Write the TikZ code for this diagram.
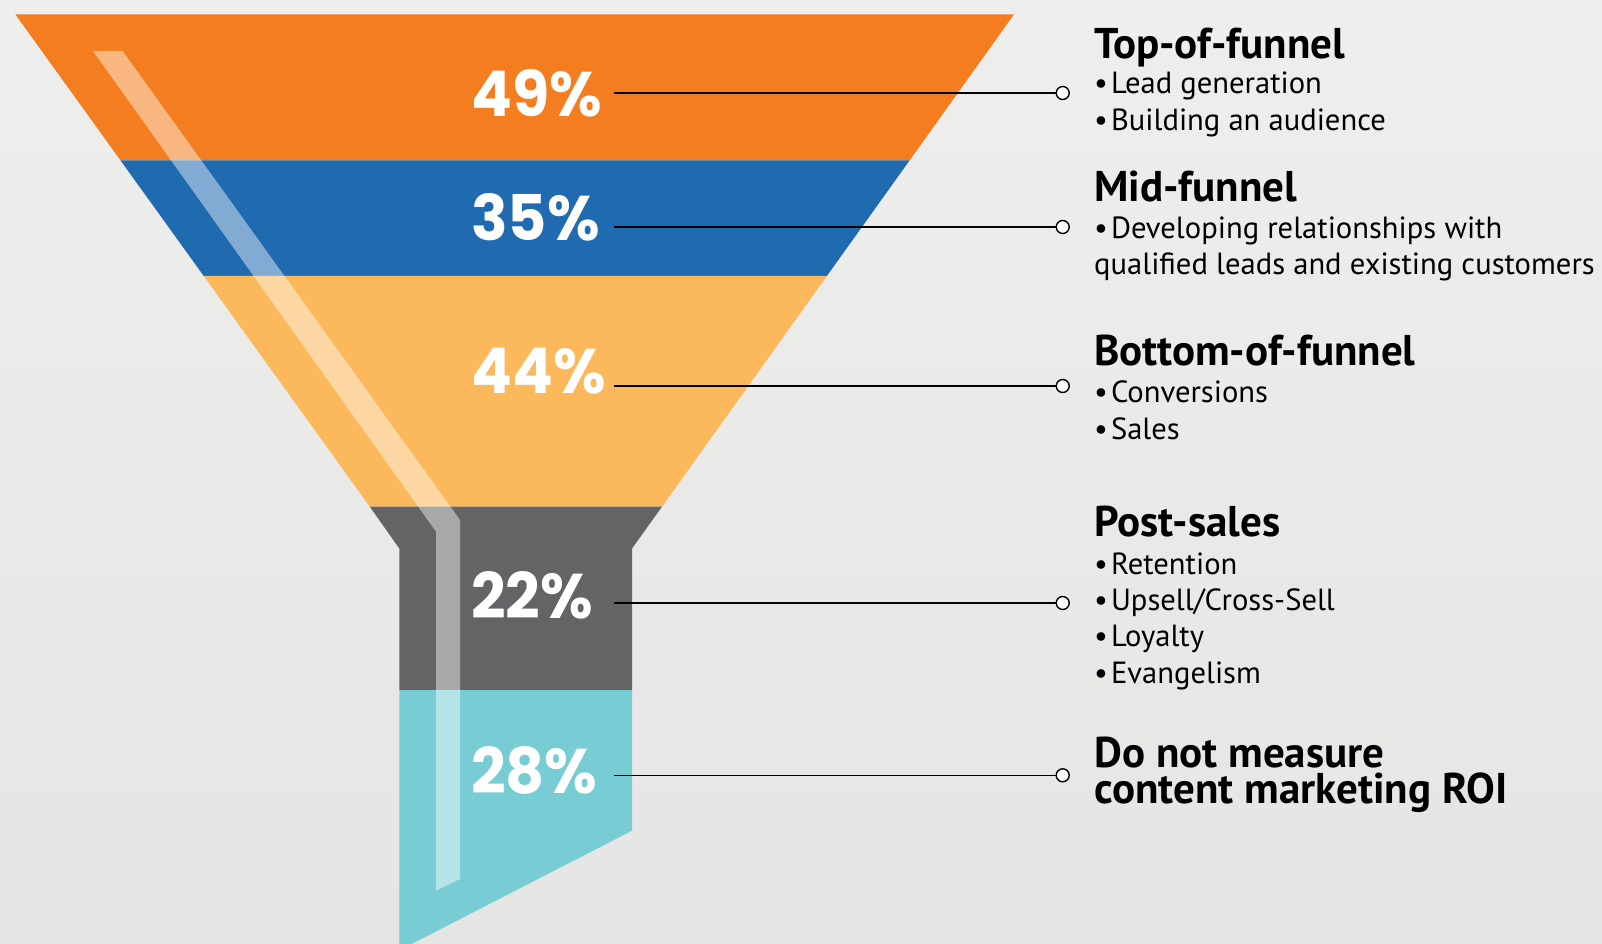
\documentclass[tikz,border=0pt]{standalone}
\usepackage{fontspec}
\setmainfont{PT Sans}
\newfontfamily\pctfont{Poppins}[FakeStretch=0.96]
\definecolor{cOrange}{RGB}{244,125,32}
\definecolor{cBlue}{RGB}{32,106,175}
\definecolor{cYellow}{RGB}{251,185,91}
\definecolor{cGray}{RGB}{99,100,102}
\definecolor{cTeal}{RGB}{120,205,213}
\definecolor{bgTop}{RGB}{238,238,237}
\definecolor{bgBot}{RGB}{229,229,227}
\newcommand{\bul}{•\kern3pt}
\begin{document}
\begin{tikzpicture}[x=1pt,y=-1pt,
  pct/.style={anchor=base west, inner sep=0pt, text=white, font=\pctfont\bfseries\fontsize{63}{70}\selectfont},
  head/.style={anchor=base west, inner sep=0pt, font=\bfseries\fontsize{43}{36}\selectfont},
  item/.style={anchor=base west, inner sep=0pt, font=\fontsize{30.6}{36}\selectfont},
  dot/.style={circle, draw=black, fill=white, line width=1.4pt, minimum size=13pt, inner sep=0pt},
  lead/.style={line width=1.5pt, black}]
\useasboundingbox (0,0) rectangle (1602,944);
\shade[top color=bgTop, bottom color=bgBot] (0,0) rectangle (1602,944);
\begin{scope}
\clip (0,0) rectangle (1602,944);
% funnel bands
\fill[cOrange] (15.3,14.3) -- (1014,14.3) -- (909.6,160.4) -- (120.5,160.4) -- cycle;
\fill[cBlue] (120.5,160.4) -- (909.6,160.4) -- (827,275.8) -- (203.6,275.8) -- cycle;
\fill[cYellow] (203.6,275.8) -- (827,275.8) -- (662,506.7) -- (369.8,506.7) -- cycle;
\fill[cGray] (369.8,506.7) -- (662,506.7) -- (632,548.5) -- (632,690) -- (399.3,690) -- (399.3,548.5) -- cycle;
\fill[cTeal] (399.3,690) -- (632,690) -- (632,830.7) -- (399.3,950.3) -- cycle;
% highlight stripe
\fill[white, opacity=0.44] (93,51) -- (122.6,51) -- (460,520) -- (460,879) -- (436,890.7) -- (436,531.7) -- cycle;
\end{scope}
% percentages
\node[pct] (p49) at (471,116.5) {49\%};
\node[pct] (p35) at (471,240) {35\%};
\node[pct] (p44) at (471,393.3) {44\%};
\node[pct] (p22) at (471,618) {22\%};
\node[pct] (p28) at (471,793.7) {28\%};
% connector ends
\coordinate (l49) at (613.5,93);
\coordinate (l35) at (613.5,227);
\coordinate (l44) at (613.5,386);
\coordinate (l22) at (613.5,603);
\coordinate (l28) at (613.5,775.3);
\node[dot] (d49) at (1062.7,93) {};
\node[dot] (d35) at (1062.7,227) {};
\node[dot] (d44) at (1062.7,386) {};
\node[dot] (d22) at (1062.7,603) {};
\node[dot] (d28) at (1062.7,775.3) {};
\draw[lead] (l49) -- (d49);
\draw[lead] (l35) -- (d35);
\draw[lead] (l44) -- (d44);
\draw[lead] (l22) -- (d22);
\draw[lead] (l28) -- (d28);
% texts
\node[head] (h1) at (1094,58.2) {Top-of-funnel};
\node[item] (t11) at (1094,94) {\bul Lead generation};
\node[item] (t12) at (1094,130.5) {\bul Building an audience};
\node[head] (h2) at (1094,201) {Mid-funnel};
\node[item] (t21) at (1094,238) {\bul Developing relationships with};
\node[item] (t22) at (1094,274.5) {qualified leads and existing customers};
\node[head] (h3) at (1094,365.7) {Bottom-of-funnel};
\node[item] (t31) at (1094,402.5) {\bul Conversions};
\node[item] (t32) at (1094,439) {\bul Sales};
\node[head] (h4) at (1094,536) {Post-sales};
\node[item] (t41) at (1094,574) {\bul Retention};
\node[item] (t42) at (1094,610) {\bul Upsell/Cross-Sell};
\node[item] (t43) at (1094,646.5) {\bul Loyalty};
\node[item] (t44) at (1094,683) {\bul Evangelism};
\node[head, align=left] (h5) at (1094,803) {Do not measure\\content marketing ROI};
\end{tikzpicture}
\end{document}
